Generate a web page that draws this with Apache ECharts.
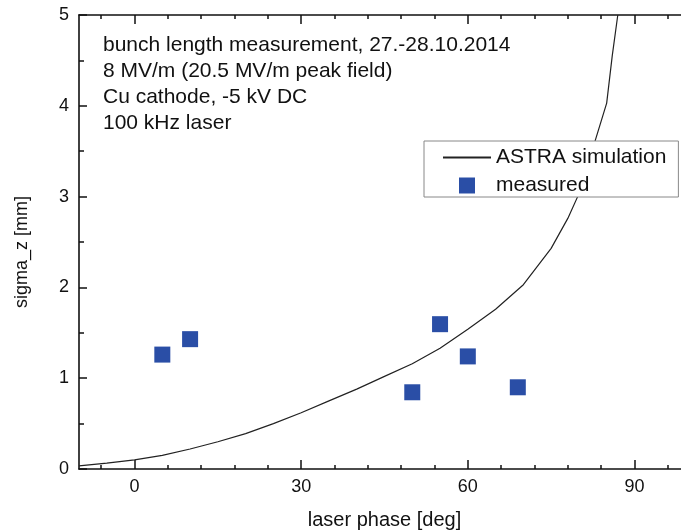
<!DOCTYPE html>
<html>
<head>
<meta charset="utf-8">
<script src="https://cdn.jsdelivr.net/npm/echarts@6/dist/echarts.min.js"></script>
<style>
html,body{margin:0;padding:0;background:#fff;}
#chart{width:681px;height:531px;}
</style>
</head>
<body>
<div id="chart"></div>
<script>
// ASTRA simulation curve
const simPhase = [-10, -5, 0, 5, 10, 15, 20, 25, 30, 35, 40, 45, 50, 55, 60, 65, 70, 75, 78, 80, 83, 85, 86, 87];
const simSigma = [0.035, 0.065, 0.10, 0.15, 0.22, 0.30, 0.39, 0.50, 0.62, 0.75, 0.88, 1.02, 1.16, 1.33, 1.54, 1.76, 2.03, 2.43, 2.76, 3.03, 3.63, 4.03, 4.55, 5.0];
// measured points
const measPhase = [5, 10, 50, 55, 60, 69];
const measSigma = [1.26, 1.43, 0.845, 1.595, 1.24, 0.90];
// tick labels
const xTickValues = [0, 30, 60, 90];
const annotationLines = [
  'bunch length measurement, 27.-28.10.2014',
  '8 MV/m (20.5 MV/m peak field)',
  'Cu cathode, -5 kV DC',
  '100 kHz laser'
];

const FONT = '"Liberation Sans", Arial, Helvetica, sans-serif';
const chart = echarts.init(document.getElementById('chart'));

function xAxisCfg(pos, showLabels) {
  return {
    type: 'value',
    position: pos,
    min: -10,
    max: 100,
    minInterval: 30,
    maxInterval: 30,
    splitLine: { show: false },
    axisLine: { show: true, onZero: false, lineStyle: { color: '#111', width: 1.6 } },
    axisTick: { show: true, inside: true, length: 9, customValues: xTickValues, lineStyle: { color: '#111', width: 1.5 } },
    minorTick: { show: true, splitNumber: 5, length: 4, lineStyle: { color: '#111', width: 1.5 } },
    axisLabel: {
      show: showLabels, customValues: xTickValues, margin: 9,
      fontFamily: FONT, fontSize: 18, color: '#111'
    },
    name: showLabels ? 'laser phase [deg]' : '',
    nameLocation: 'middle',
    nameGap: 41,
    nameTextStyle: { fontFamily: FONT, fontSize: 20, color: '#111' }
  };
}

const option = {
  backgroundColor: '#fff',
  animation: false,
  grid: { left: 79, top: 15, width: 611, height: 454, containLabel: false, outerBoundsMode: 'none' },
  xAxis: [xAxisCfg('bottom', true), xAxisCfg('top', false)],
  yAxis: [{
    type: 'value',
    position: 'left',
    min: 0, max: 5, interval: 1,
    splitLine: { show: false },
    axisLine: { show: true, onZero: false, lineStyle: { color: '#111', width: 1.6 } },
    axisTick: { show: true, inside: true, length: 8, lineStyle: { color: '#111', width: 1.5 } },
    minorTick: { show: true, splitNumber: 2, length: 5, lineStyle: { color: '#111', width: 1.5 } },
    axisLabel: { margin: 10, fontFamily: FONT, fontSize: 18, color: '#111' },
    name: 'sigma_z [mm]',
    nameLocation: 'middle',
    nameGap: 48,
    nameRotate: 90,
    nameTextStyle: { fontFamily: FONT, fontSize: 18, color: '#111', padding: [0, 20, 0, 0] }
  }],
  legend: {
    orient: 'vertical',
    left: 424, top: 141,
    padding: [6, 12, 1, 18],
    itemGap: 7,
    itemWidth: 48,
    itemHeight: 16,
    symbolKeepAspect: true,
    backgroundColor: '#fff',
    borderColor: '#888',
    borderWidth: 1,
    borderRadius: 0,
    textStyle: { fontFamily: FONT, fontSize: 21, lineHeight: 20, color: '#111' },
    data: [
      { name: 'ASTRA simulation', itemStyle: { opacity: 0 } },
      { name: 'measured', icon: 'path://M0,0H10V10H0Z' }
    ]
  },
  graphic: [{
    type: 'text',
    left: 103,
    top: 32,
    z: 10,
    style: {
      text: annotationLines.join('\n'),
      font: '21px ' + FONT,
      lineHeight: 26,
      fill: '#111'
    }
  }],
  series: [
    {
      name: 'ASTRA simulation',
      type: 'line',
      xAxisIndex: 0, yAxisIndex: 0,
      data: simPhase.map((p, i) => [p, simSigma[i]]),
      symbol: 'none',
      smooth: false,
      clip: true,
      lineStyle: { color: '#222', width: 1.2 },
      itemStyle: { color: '#222' }
    },
    {
      name: 'measured',
      type: 'scatter',
      xAxisIndex: 0, yAxisIndex: 0,
      data: measPhase.map((p, i) => [p, measSigma[i]]),
      symbol: 'rect',
      symbolSize: 16,
      itemStyle: { color: '#2a4ea6', opacity: 1 }
    }
  ]
};
chart.setOption(option);
</script>
</body>
</html>
